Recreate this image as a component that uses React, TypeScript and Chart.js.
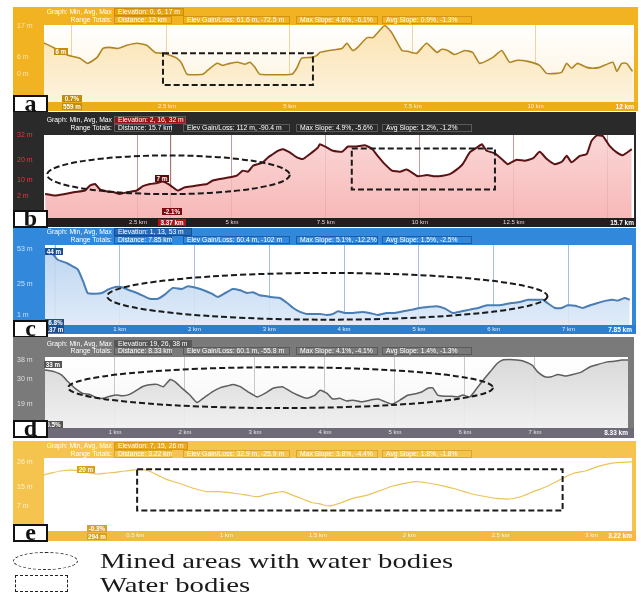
import React, { useEffect, useRef } from "react";
import { Chart, registerables } from "chart.js";
Chart.register(...registerables);

// ---------------- DATA ----------------
// Panel a (12 km)
const distA = [0,0.18,0.49,0.73,0.89,1.08,1.2,1.34,1.5,1.69,1.89,2.09,2.26,2.42,2.56,2.7,2.8,2.91,3.23,3.33,3.52,3.64,3.78,3.94,4.09,4.19,4.29,4.39,5.04,5.14,5.24,5.45,5.55,5.61,5.81,6.06,6.16,6.28,6.38,6.57,6.69,6.79,6.93,7.07,7.28,7.4,7.58,7.78,7.99,8.09,8.21,8.35,8.56,8.72,8.86,9.13,9.31,9.47,9.63,9.84,10.08,10.22,10.43,10.53,10.63,10.73,10.85,11.04,11.16,11.3,11.57,11.65,11.75,11.85,11.97];
const elevA = [10.9,9.4,6.6,5.6,3.8,5.9,9.0,9.4,9.0,10.1,10.8,10.1,7.6,7.3,6.6,5.6,3.8,0,0,1.4,3.8,3.1,3.8,4.2,3.5,4.2,2.4,0,0,2.1,5.6,5.9,6.6,7.6,8.3,9.0,10.8,8.3,9.4,12.8,12.8,14.6,17.0,14.6,8.3,8.0,7.3,10.8,7.6,8.7,8.3,6.9,8.3,7.6,3.8,5.9,8.3,4.2,4.9,4.5,3.1,0.3,0.3,0.7,3.8,2.1,3.8,2.4,2.1,2.4,4.2,1.0,3.8,3.8,1.0];
const xTicksA = [2.5, 5, 7.5, 10];
const yTicksA = [0, 6, 17];
const headerA = ["Elevation: 0, 6, 17 m", "Distance: 12 km", "Elev Gain/Loss: 61.6 m, -72.5 m", "Max Slope: 4.6%, -6.1%", "Avg Slope: 0.9%, -1.3%"];
const waterA = [2.42, 5.47, -3.8, 7.3];

// Panel b (15.7 km)
const distB = [0.03,0.29,0.56,0.82,1.09,1.22,1.36,1.49,1.68,1.84,2.02,2.23,2.47,2.63,2.82,3.01,3.16,3.30,3.43,3.56,3.75,3.96,4.15,4.34,4.49,4.68,4.95,5.13,5.29,5.43,5.56,5.69,5.82,5.96,6.09,6.22,6.36,6.54,6.73,6.89,7.07,7.29,7.34,7.53,7.69,7.93,8.09,8.32,8.54,8.72,8.88,9.07,9.26,9.47,9.65,9.81,9.95,10.19,10.4,10.61,10.8,10.98,11.14,11.33,11.52,11.65,11.78,11.99,12.18,12.34,12.58,12.79,13.01,13.19,13.38,13.59,13.78,13.91,14.04,14.26,14.44,14.57,14.71,14.87,15.05,15.24,15.4,15.64];
const elevB = [3.1,2.3,3.1,4.0,4.8,7.2,8.0,5.3,4.3,4.0,3.1,4.0,4.8,6.9,8.0,8.5,9.2,8.0,6.4,4.8,6.4,6.9,7.5,8.0,9.7,10.5,11.3,12.1,14.6,14.1,17.0,17.8,18.7,21.1,22.7,24.4,25.2,23.6,21.1,20.3,22.7,26.0,27.6,26.0,24.4,23.9,26.5,26.5,27.1,25.5,21.9,17.8,14.6,14.1,15.1,13.4,11.8,12.4,11.8,12.1,12.9,15.1,17.8,23.6,26.0,27.6,24.4,23.2,20.3,17.8,20.0,19.5,20.6,23.9,20.3,17.8,19.0,21.9,18.7,21.9,22.7,29.3,32.0,31.7,26.8,23.6,22.2,25.2];
const xTicksB = [2.5, 5, 7.5, 10, 12.5, 15];
const yTicksB = [2, 10, 20, 32];
const headerB = ["Elevation: 2, 16, 32 m", "Distance: 15.7 km", "Elev Gain/Loss: 112 m, -90.4 m", "Max Slope: 4.9%, -5.6%", "Avg Slope: 1.2%, -1.2%"];
const minedB = [0.08, 6.54, 3.0, 22.1];
const waterB = [8.19, 12.0, 5.3, 25.5];

// Panel c (7.85 km)
const distC = [0,0.11,0.17,0.29,0.37,0.44,0.51,0.57,0.67,0.76,0.84,0.94,1.03,1.11,1.23,1.31,1.40,1.51,1.60,1.71,1.83,1.91,2.03,2.14,2.23,2.31,2.41,2.51,2.61,2.70,2.78,2.87,2.97,3.05,3.14,3.24,3.32,3.41,3.50,3.61,3.68,3.77,3.85,3.92,4.01,4.12,4.24,4.34,4.45,4.57,4.68,4.79,4.91,5.01,5.12,5.24,5.35,5.45,5.57,5.68,5.79,5.91,6.02,6.12,6.24,6.35,6.46,6.58,6.66,6.72,6.82,6.91,6.99,7.09,7.19,7.29,7.39,7.51,7.59,7.66,7.75,7.82];
const elevC = [53.0,48.5,44.5,41.9,39.3,36.7,27.5,18.3,17.8,18.3,20.9,23.0,22.8,20.9,18.3,16.2,13.8,13.8,17.0,22.3,21.5,23.6,22.3,20.1,17.8,15.2,18.3,21.5,20.4,18.3,18.9,16.5,15.7,14.9,14.4,10.4,6.5,3.4,1.8,1.8,1.8,1.0,1.8,3.9,2.6,2.6,3.4,2.6,1.0,2.6,2.6,3.9,5.2,6.5,7.3,7.9,6.0,2.6,3.9,5.2,6.5,8.6,8.6,9.1,10.4,11.2,13.0,13.0,13.0,10.4,6.5,6.5,8.6,8.3,6.5,8.6,10.4,12.3,13.0,12.3,14.4,13.0];
const xTicksC = [1, 2, 3, 4, 5, 6, 7];
const yTicksC = [1, 25, 53];
const headerC = ["Elevation: 1, 13, 53 m", "Distance: 7.85 km", "Elev Gain/Loss: 60.4 m, -102 m", "Max Slope: 5.1%, -12.2%", "Avg Slope: 1.5%, -2.5%"];
const minedC = [0.83, 6.72, -2.7, 34.1];

// Panel d (8.33 km)
const distD = [0,0.14,0.24,0.33,0.43,0.54,0.64,0.74,0.83,0.93,1.03,1.11,1.21,1.29,1.39,1.47,1.6,1.69,1.79,1.86,1.96,2.07,2.17,2.26,2.39,2.5,2.6,2.69,2.79,2.9,3.03,3.14,3.26,3.39,3.5,3.61,3.74,3.86,3.93,4.03,4.11,4.21,4.31,4.4,4.53,4.64,4.76,4.86,4.96,5.07,5.19,5.31,5.39,5.47,5.54,5.61,5.71,5.81,5.9,5.97,6.07,6.17,6.26,6.36,6.46,6.54,6.64,6.74,6.83,6.96,7.04,7.14,7.24,7.33,7.43,7.54,7.67,7.79,7.9,8.03,8.14,8.24,8.33];
const elevD = [33.7,32.9,31.5,28.6,25.8,23.6,23.2,21.7,21.5,22.4,22.9,22.6,23.2,24.6,26.5,27.2,27.5,26.5,29.6,28.6,25.8,22.9,19.7,21.5,24.3,26.0,26.8,27.5,26.5,24.3,22.1,23.6,25.8,26.5,24.6,22.9,21.5,22.9,25.0,23.6,21.2,21.5,20.3,20.7,20.0,20.7,21.2,20.0,19.0,20.7,22.9,23.6,24.3,25.8,26.0,22.9,22.4,22.4,22.1,22.9,22.1,25.8,29.3,32.9,36.5,38.0,38.2,38.0,37.6,35.8,32.9,30.8,30.8,31.8,31.1,31.8,32.9,35.1,36.1,37.2,37.5,38.0,38.0];
const xTicksD = [1, 2, 3, 4, 5, 6, 7];
const yTicksD = [19, 30, 38];
const headerD = ["Elevation: 19, 26, 38 m", "Distance: 8.33 km", "Elev Gain/Loss: 60.1 m, -55.8 m", "Max Slope: 4.1%, -4.1%", "Avg Slope: 1.4%, -1.3%"];
const minedD = [0.33, 6.4, 17.3, 34.9];

// Panel e (3.22 km)
const distE = [0,0.05,0.10,0.15,0.2,0.24,0.29,0.33,0.39,0.44,0.49,0.53,0.57,0.62,0.67,0.74,0.82,0.89,0.96,1.04,1.11,1.17,1.22,1.28,1.31,1.36,1.42,1.47,1.51,1.56,1.62,1.69,1.77,1.84,1.91,1.99,2.04,2.11,2.19,2.26,2.33,2.40,2.48,2.55,2.61,2.68,2.75,2.83,2.9,2.97,3.04,3.12,3.22];
const elevE = [20.4,21.4,22.2,22.5,22.2,21.4,20.8,21.1,21.5,22.1,22.5,22.8,22.2,20.4,18.5,16.8,14.6,13.2,13.2,12.5,11.7,11.0,12.0,12.9,13.2,11.7,9.9,8.4,7.9,7.0,8.2,10.3,11.7,13.6,15.6,17.0,17.5,16.8,15.6,14.2,12.5,11.3,10.3,10.0,11.0,13.2,15.3,18.5,21.1,22.2,24.2,25.6,26.0];
const xTicksE = [0.5, 1, 1.5, 2, 2.5, 3];
const yTicksE = [7, 15, 26];
const headerE = ["Elevation: 7, 15, 26 m", "Distance: 3.22 km", "Elev Gain/Loss: 32.9 m, -25.9 m", "Max Slope: 3.8%, -4.4%", "Avg Slope: 1.8%, -1.8%"];
const waterE = [0.51, 2.84, 5.0, 22.8];

const legendLabels = ["Mined areas with water bodies", "Water bodies"];

// ---------------- TYPES / STYLE ----------------
type Shape = { kind: "ellipse" | "rect"; r: number[] };
interface Tag { text: string; x: number; y: number; w: number; bg: string }
interface Panel {
  letter: string;
  dist: number[]; elev: number[];
  xMax: number; yMin: number; yMax: number;
  xTicks: number[]; yTicks: number[];
  header: string[]; endLabel: string;
  shapes: Shape[]; marker: number | null;
  top: number; bottom: number; right: number;
  plotTop: number; plotBottom: number; plotLeft: number; plotRight: number;
  row1: number; row2: number; elevW: number; letterY: number;
  frame: string; band: string; plotBg: [string, string]; fill: [string, string] | null;
  line: string; lineW: number; grid: string | null; yLabel: string; xLabel: string;
  boxBorder: string; elevBg: string; markerColor: string; tension: number;
  tags: Tag[];
}

const FRAME_LEFT = 13;
const FONT = '"Liberation Sans", Arial, sans-serif';

const panels: Panel[] = [
  {
    letter: "a", dist: distA, elev: elevA, xMax: 12, yMin: -9.7, yMax: 17.2,
    xTicks: xTicksA, yTicks: yTicksA, header: headerA, endLabel: "12 km",
    shapes: [{ kind: "rect", r: waterA }], marker: 0.559,
    top: 7, bottom: 111, right: 638, plotTop: 25, plotBottom: 102, plotLeft: 44, plotRight: 634,
    row1: 12, row2: 20, elevW: 70, letterY: 95,
    frame: "#f2b322", band: "#eeab1a", plotBg: ["#ffffff", "#fdf2da"], fill: ["#fbe3b2", "#fdf3de"],
    line: "#b08624", lineW: 1.6, grid: "rgba(236,208,150,0.9)", yLabel: "rgba(255,242,205,0.8)", xLabel: "rgba(255,246,225,0.95)",
    boxBorder: "rgba(170,110,0,0.45)", elevBg: "#e6a412", markerColor: "rgba(238,212,150,1)", tension: 0.15,
    tags: [
      { text: "6 m", x: 54, y: 48, w: 14, bg: "#c48c08" },
      { text: "0.7%", x: 62, y: 95, w: 20, bg: "#c48c08" },
      { text: "559 m", x: 62, y: 103, w: 20, bg: "#c48c08" },
    ],
  },
  {
    letter: "b", dist: distB, elev: elevB, xMax: 15.7, yMin: -8.8, yMax: 32.2,
    xTicks: xTicksB, yTicks: yTicksB, header: headerB, endLabel: "15.7 km",
    shapes: [{ kind: "ellipse", r: minedB }, { kind: "rect", r: waterB }], marker: 3.37,
    top: 112, bottom: 227, right: 636, plotTop: 135, plotBottom: 218, plotLeft: 44, plotRight: 634,
    row1: 120, row2: 128, elevW: 72, letterY: 210,
    frame: "#2a2a2a", band: "#1f1f1f", plotBg: ["#ffffff", "#ffffff"], fill: ["rgba(250,208,208,0.85)", "rgba(246,172,172,0.85)"],
    line: "#5a1212", lineW: 2, grid: "rgba(165,85,85,0.6)", yLabel: "#e23c3c", xLabel: "#dddddd",
    boxBorder: "#5a5a5a", elevBg: "#9e1010", markerColor: "rgba(120,40,40,0.75)", tension: 0.15,
    tags: [
      { text: "7 m", x: 155, y: 175, w: 14, bg: "#5a0a0a" },
      { text: "-2.1%", x: 162, y: 208, w: 20, bg: "#7a0e0e" },
      { text: "3.37 km", x: 158, y: 219, w: 28, bg: "#b01515" },
    ],
  },
  {
    letter: "c", dist: distC, elev: elevC, xMax: 7.85, yMin: -6.9, yMax: 56.1,
    xTicks: xTicksC, yTicks: yTicksC, header: headerC, endLabel: "7.85 km",
    shapes: [{ kind: "ellipse", r: minedC }], marker: 0.137,
    top: 228, bottom: 334, right: 636, plotTop: 245, plotBottom: 325, plotLeft: 45, plotRight: 632,
    row1: 232, row2: 240, elevW: 78, letterY: 320,
    frame: "#3289dc", band: "#2a7fd0", plotBg: ["#ffffff", "#ffffff"], fill: ["rgba(180,208,238,0.9)", "rgba(220,233,248,0.9)"],
    line: "#4a7db4", lineW: 2, grid: "rgba(150,186,226,0.9)", yLabel: "rgba(225,238,255,0.85)", xLabel: "#e6f0ff",
    boxBorder: "rgba(10,50,110,0.5)", elevBg: "#2468b8", markerColor: "#7aa2d0", tension: 0.15,
    tags: [
      { text: "44 m", x: 45, y: 248, w: 18, bg: "#1d4f8f" },
      { text: "-6.8%", x: 45, y: 319, w: 19, bg: "#1d4f8f" },
      { text: "137 m", x: 45, y: 326, w: 19, bg: "#1d4f8f" },
    ],
  },
  {
    letter: "d", dist: distD, elev: elevD, xMax: 8.33, yMin: 8.7, yMax: 39.3,
    xTicks: xTicksD, yTicks: yTicksD, header: headerD, endLabel: "8.33 km",
    shapes: [{ kind: "ellipse", r: minedD }], marker: null,
    top: 337, bottom: 438, right: 634, plotTop: 357, plotBottom: 428, plotLeft: 45, plotRight: 628,
    row1: 344, row2: 351, elevW: 78, letterY: 420,
    frame: "#7a7a7a", band: "#6e6a78", plotBg: ["#ffffff", "#f4f4f4"], fill: ["rgba(212,212,212,0.9)", "rgba(240,240,240,0.9)"],
    line: "#5e5e5e", lineW: 1.5, grid: "rgba(200,200,200,1)", yLabel: "rgba(238,238,238,0.85)", xLabel: "#e4e4e4",
    boxBorder: "#5a5a5a", elevBg: "#555555", markerColor: "#888", tension: 0.15,
    tags: [
      { text: "33 m", x: 44, y: 361, w: 18, bg: "#555555" },
      { text: "0.5%", x: 44, y: 421, w: 19, bg: "#555555" },
    ],
  },
  {
    letter: "e", dist: distE, elev: elevE, xMax: 3.22, yMin: -3.8, yMax: 27.7,
    xTicks: xTicksE, yTicks: yTicksE, header: headerE, endLabel: "3.22 km",
    shapes: [{ kind: "rect", r: waterE }], marker: null,
    top: 441, bottom: 541, right: 636, plotTop: 458, plotBottom: 531, plotLeft: 44, plotRight: 632,
    row1: 446, row2: 454, elevW: 74, letterY: 524,
    frame: "#f5c44e", band: "#f0bb40", plotBg: ["#ffffff", "#ffffff"], fill: null,
    line: "#eac45a", lineW: 1.2, grid: null, yLabel: "rgba(255,246,222,0.9)", xLabel: "rgba(255,250,236,0.95)",
    boxBorder: "rgba(190,130,0,0.45)", elevBg: "#e9a91c", markerColor: "#eee", tension: 0.3,
    tags: [
      { text: "20 m", x: 77, y: 466, w: 18, bg: "#d9a21e" },
      { text: "-0.3%", x: 87, y: 525, w: 20, bg: "#d9a21e" },
      { text: "294 m", x: 87, y: 533, w: 20, bg: "#d9a21e" },
    ],
  },
];

// ---------------- COMPONENTS ----------------
function ProfileChart({ p }: { p: Panel }) {
  const ref = useRef<HTMLCanvasElement>(null);
  useEffect(() => {
    const canvas = ref.current!;
    const bgPlugin = {
      id: "bgPlugin",
      beforeDraw(chart: any) {
        const { ctx, chartArea: ca, width, height } = chart;
        ctx.save();
        ctx.fillStyle = p.frame;
        ctx.fillRect(0, 0, width, height);
        ctx.fillStyle = p.band;
        ctx.fillRect(0, ca.bottom, width, height - ca.bottom);
        const g = ctx.createLinearGradient(0, ca.top, 0, ca.bottom);
        g.addColorStop(0, p.plotBg[0]);
        g.addColorStop(1, p.plotBg[1]);
        ctx.fillStyle = g;
        ctx.fillRect(ca.left, ca.top, ca.right - ca.left, ca.bottom - ca.top);
        ctx.restore();
      },
      beforeDatasetsDraw(chart: any) {
        if (p.marker == null) return;
        const { ctx, chartArea: ca } = chart;
        const x = chart.scales.x.getPixelForValue(p.marker);
        ctx.save();
        ctx.strokeStyle = p.markerColor;
        ctx.lineWidth = 1;
        ctx.beginPath();
        ctx.moveTo(x, ca.top);
        ctx.lineTo(x, ca.bottom);
        ctx.stroke();
        ctx.restore();
      },
      afterDraw(chart: any) {
        const { ctx } = chart;
        const xs = chart.scales.x, ys = chart.scales.y;
        ctx.save();
        ctx.strokeStyle = "#1a1a1a";
        ctx.lineWidth = 2;
        ctx.setLineDash([6, 3]);
        for (const s of p.shapes) {
          const [k0, k1, m0, m1] = s.r;
          const x0 = xs.getPixelForValue(k0), x1 = xs.getPixelForValue(k1);
          const y0 = ys.getPixelForValue(m1), y1 = ys.getPixelForValue(m0);
          ctx.beginPath();
          if (s.kind === "rect") ctx.rect(x0, y0, x1 - x0, y1 - y0);
          else ctx.ellipse((x0 + x1) / 2, (y0 + y1) / 2, (x1 - x0) / 2, (y1 - y0) / 2, 0, 0, Math.PI * 2);
          ctx.stroke();
        }
        ctx.restore();
      },
    };
    const chart = new Chart(canvas, {
      type: "line",
      data: {
        datasets: [
          {
            data: p.dist.map((x, i) => ({ x, y: p.elev[i] })),
            borderColor: p.line,
            borderWidth: p.lineW,
            pointRadius: 0,
            tension: p.tension,
            fill: p.fill ? "start" : false,
            backgroundColor: (c: any) => {
              const ca = c.chart.chartArea;
              if (!p.fill) return "transparent";
              if (!ca) return p.fill[0];
              const g = c.chart.ctx.createLinearGradient(0, ca.top, 0, ca.bottom);
              g.addColorStop(0, p.fill[0]);
              g.addColorStop(1, p.fill[1]);
              return g;
            },
          },
        ],
      },
      options: {
        responsive: false,
        animation: false,
        events: [],
        layout: { padding: { left: 4, top: p.plotTop - p.top, right: p.right - p.plotRight, bottom: 0 } },
        plugins: { legend: { display: false }, tooltip: { enabled: false } },
        scales: {
          x: {
            type: "linear", min: 0, max: p.xMax, z: 1,
            border: { display: false },
            grid: { display: !!p.grid, color: p.grid || "transparent", drawTicks: false, lineWidth: 1 },
            afterBuildTicks: (s: any) => { s.ticks = p.xTicks.map((v) => ({ value: v })); },
            afterFit: (s: any) => { s.height = p.bottom - p.plotBottom; },
            ticks: {
              padding: 1, color: p.xLabel, autoSkip: false, maxRotation: 0,
              font: { size: 6, family: FONT },
              callback: (v: any) => (v === 15 ? "" : `${v} km`),
            },
          },
          y: {
            type: "linear", min: p.yMin, max: p.yMax,
            grid: { display: false }, border: { display: false },
            afterBuildTicks: (s: any) => { s.ticks = p.yTicks.map((v) => ({ value: v })); },
            afterFit: (s: any) => { s.width = p.plotLeft - FRAME_LEFT - 4; },
            ticks: {
              crossAlign: "far", padding: 0, color: p.yLabel,
              font: { size: 7, family: FONT },
              callback: (v: any) => `${v} m`,
            },
          },
        },
      } as any,
      plugins: [bgPlugin as any],
    });
    return () => chart.destroy();
  }, [p]);
  return (
    <canvas
      ref={ref}
      width={p.right - FRAME_LEFT}
      height={p.bottom - p.top}
      style={{ position: "absolute", left: FRAME_LEFT, top: p.top, width: p.right - FRAME_LEFT, height: p.bottom - p.top }}
    />
  );
}

const headerCols = [
  { x: 114, w: 58 },
  { x: 183, w: 107 },
  { x: 296, w: 82 },
  { x: 382, w: 90 },
];

function PanelView({ p }: { p: Panel }) {
  const txt: React.CSSProperties = {
    position: "absolute", fontFamily: FONT, fontSize: 6.8, lineHeight: "8px", color: "#ffffff", whiteSpace: "nowrap",
  };
  const boxStyle = (x: number, y: number, w: number, bg: string): React.CSSProperties => ({
    ...txt, left: x, top: y - 4, width: w, height: 8, boxSizing: "border-box", paddingLeft: 3,
    border: `1px solid ${p.boxBorder}`, background: bg, lineHeight: "6px",
  });
  return (
    <>
      <ProfileChart p={p} />
      <div style={{ ...txt, left: 0, width: 112, textAlign: "right", top: p.row1 - 4 }}>Graph: Min, Avg, Max</div>
      <div style={boxStyle(114, p.row1, p.elevW, p.elevBg)}>{p.header[0]}</div>
      <div style={{ ...txt, left: 0, width: 112, textAlign: "right", top: p.row2 - 4 }}>Range Totals:</div>
      {headerCols.map((c, i) => (
        <div key={i} style={boxStyle(c.x, p.row2, c.w, "transparent")}>{p.header[i + 1]}</div>
      ))}
      {p.tags.map((t, i) => (
        <div
          key={i}
          style={{
            ...txt, left: t.x, top: t.y, width: t.w, height: 7, lineHeight: "7px", fontSize: 6.3,
            fontWeight: "bold", textAlign: "center", background: t.bg,
          }}
        >
          {t.text}
        </div>
      ))}
      <div
        style={{
          ...txt, right: 641 - p.plotRight, top: p.plotBottom + 1, fontSize: 6.5, lineHeight: "7px",
          fontWeight: "bold", color: "#ffffff",
        }}
      >
        {p.endLabel}
      </div>
      <div
        style={{
          position: "absolute", left: 13, top: p.letterY, width: 35, height: 18, boxSizing: "border-box",
          border: "2px solid #111", background: "#fff", fontFamily: '"Liberation Serif", serif',
          fontSize: 24, fontWeight: "bold", lineHeight: "12px", textAlign: "center", color: "#111",
        }}
      >
        {p.letter}
      </div>
    </>
  );
}

export default function App() {
  const legendText: React.CSSProperties = {
    position: "absolute", left: 100, fontFamily: '"Liberation Serif", "Times New Roman", serif', fontSize: 21,
    color: "#1a1a1a", whiteSpace: "nowrap", transform: "scaleX(1.37)", transformOrigin: "left center", lineHeight: "22px",
  };
  return (
    <div style={{ position: "absolute", left: 0, top: 0, width: 641, height: 595, background: "#ffffff", overflow: "hidden" }}>
      {panels.map((p) => (
        <PanelView key={p.letter} p={p} />
      ))}
      <div
        style={{
          position: "absolute", left: 13, top: 552, width: 65, height: 18, boxSizing: "border-box",
          border: "1.5px dashed #222", borderRadius: "50%",
        }}
      />
      <div style={{ ...legendText, top: 550 }}>{legendLabels[0]}</div>
      <div
        style={{
          position: "absolute", left: 15, top: 575, width: 53, height: 17, boxSizing: "border-box",
          border: "1.2px dashed #222",
        }}
      />
      <div style={{ ...legendText, top: 574 }}>{legendLabels[1]}</div>
    </div>
  );
}
